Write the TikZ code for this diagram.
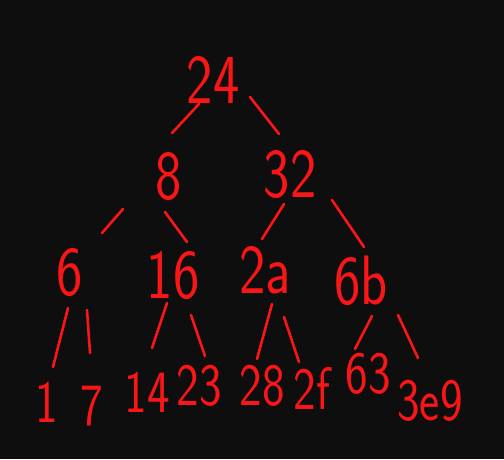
\documentclass[tikz,border=0pt]{standalone}
\usetikzlibrary{calc}
\definecolor{bg}{RGB}{14,14,14}
\definecolor{ink}{RGB}{250,22,22}
\newcommand\handlbl[1]{\scalebox{0.8}[1]{#1}}
\tikzset{
  lab/.style={text=ink, inner sep=0pt, font=\sffamily\fontsize{70}{70}\selectfont},
  leaf/.style={lab, font=\sffamily\fontsize{60}{60}\selectfont},
  edge/.style={draw=ink, line width=2.6pt, line cap=round}
}
\begin{document}
\begin{tikzpicture}[x=1pt,y=-1pt]
\fill[bg] (0,0) rectangle (504,459);
\useasboundingbox (0,0) rectangle (504,459);
% nodes
\node[lab] (n24) at (213,80) {\handlbl{24}};
\node[lab] (n8) at (169,177) {\handlbl{8}};
\node[lab] (n32) at (290,175) {\handlbl{32}};
\node[lab] (n6) at (70,273) {\handlbl{6}};
\node[lab] (n16) at (173,276) {\handlbl{16}};
\node[lab] (n2a) at (265,270) {\handlbl{2a}};
\node[lab] (n6b) at (361,281) {\handlbl{6b}};
\node[leaf] (n1) at (47,402) {\handlbl{1}};
\node[leaf] (n7) at (92,406) {\handlbl{7}};
\node[leaf] (n14) at (147,392) {\handlbl{14}};
\node[leaf] (n23) at (199,386) {\handlbl{23}};
\node[leaf] (n28) at (262,386) {\handlbl{28}};
\node[leaf] (n2f) at (312,388) {\handlbl{2f}};
\node[leaf] (n63) at (368,374) {\handlbl{63}};
\node[leaf] (n3e9) at (430,401) {\handlbl{3e9}};
% edges
\draw[edge] ($(n24)+(-14,24)$) -- ($(n8)+(3,-44)$);
\draw[edge] ($(n24)+(37,17)$) -- ($(n32)+(-11,-41)$);
\draw[edge] ($(n8)+(-46,32)$) -- ($(n6)+(32,-40)$);
\draw[edge] ($(n8)+(-4,35)$) -- ($(n16)+(14,-34)$);
\draw[edge] ($(n32)+(-6,29)$) -- ($(n2a)+(-3,-31)$);
\draw[edge] ($(n32)+(42,25)$) -- ($(n6b)+(3,-34)$);
\draw[edge] ($(n6)+(-2,35)$) -- ($(n1)+(6,-35)$);
\draw[edge] ($(n6)+(17,37)$) -- ($(n7)+(-2,-53)$);
\draw[edge] ($(n16)+(-6,27)$) -- ($(n14)+(5,-44)$);
\draw[edge] ($(n16)+(18,39)$) -- ($(n23)+(6,-30)$);
\draw[edge] ($(n2a)+(7,34)$) -- ($(n28)+(-5,-27)$);
\draw[edge] ($(n2a)+(19,47)$) -- ($(n2f)+(-13,-26)$);
\draw[edge] ($(n6b)+(11,35)$) -- ($(n63)+(-13,-25)$);
\draw[edge] ($(n6b)+(37,34)$) -- ($(n3e9)+(-12,-43)$);
\end{tikzpicture}
\end{document}
